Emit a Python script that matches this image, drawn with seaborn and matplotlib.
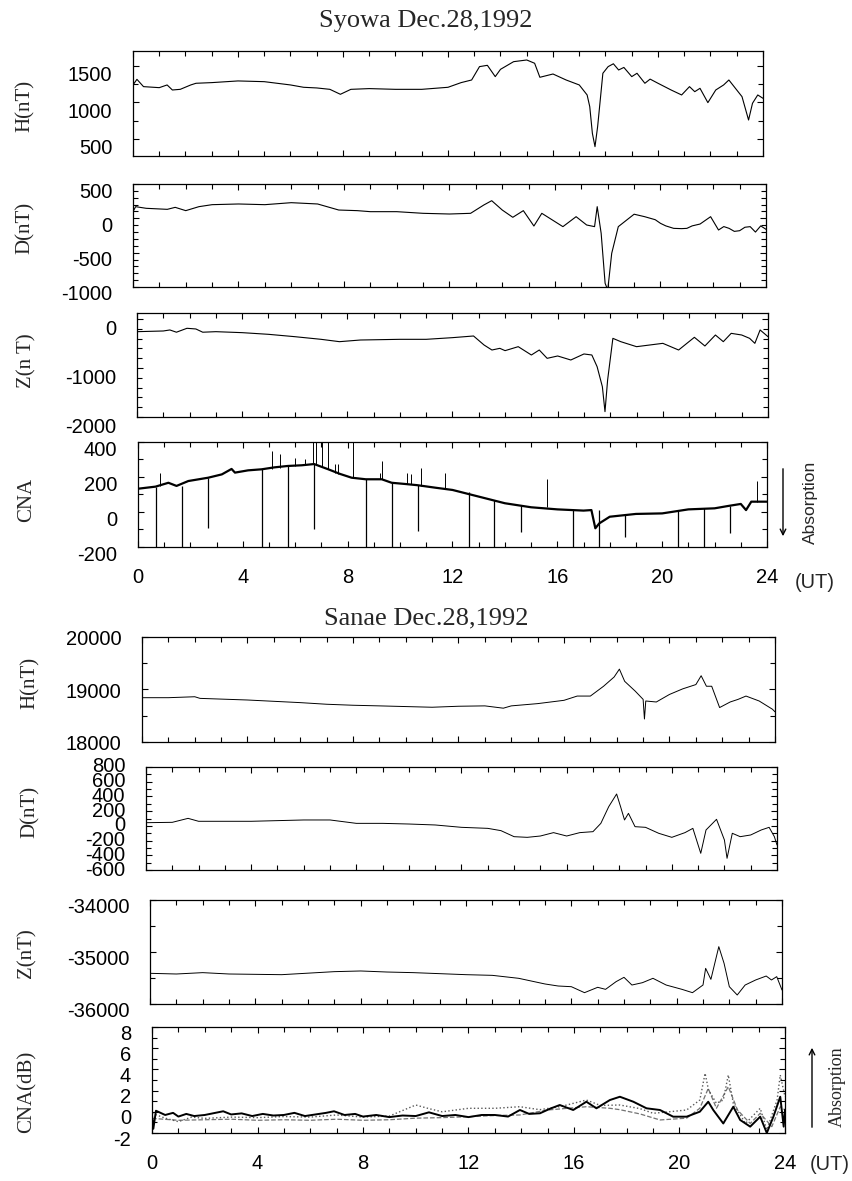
import matplotlib
matplotlib.use('Agg')
import matplotlib.pyplot as plt
import matplotlib.transforms as mtransforms
from matplotlib.ticker import MultipleLocator, FixedLocator
import seaborn as sns
import numpy as np
import pandas as pd

# ── Syowa Dec.28,1992 ──────────────────────────────────────────
syowa_h_t = [0.0, 0.15, 0.4, 1.0, 1.3, 1.5, 1.8, 2.2, 2.4, 3.0, 4.0, 5.0, 6.0, 6.5, 7.0, 7.5, 7.9, 8.3,
             9.0, 10.0, 11.0, 12.0, 12.5, 12.9, 13.2, 13.5, 13.8, 14.0, 14.5, 15.0, 15.3, 15.5, 16.0,
             16.5, 17.0, 17.3, 17.4, 17.5, 17.6, 17.7, 17.8, 17.9, 18.1, 18.3, 18.5, 18.7, 19.0, 19.2,
             19.5, 19.7, 20.0, 20.5, 20.9, 21.2, 21.4, 21.6, 21.9, 22.2, 22.5, 22.7, 23.0, 23.2, 23.45,
             23.6, 23.8, 24.0]
syowa_h_v = [1240, 1317, 1217, 1203, 1240, 1171, 1180, 1240, 1263, 1272, 1295, 1285, 1240, 1208, 1199,
             1180, 1112, 1180, 1190, 1180, 1180, 1208, 1272, 1308, 1491, 1509, 1354, 1454, 1559, 1582,
             1537, 1345, 1390, 1308, 1240, 1103, 943, 578, 395, 669, 1034, 1400, 1491, 1530, 1445, 1480,
             1354, 1400, 1263, 1320, 1263, 1171, 1103, 1217, 1148, 1194, 998, 1171, 1240, 1308, 1171,
             1080, 760, 989, 1103, 1057]

syowa_d_t = [0.0, 0.1, 0.5, 1.3, 1.6, 2.0, 2.5, 3.0, 4.0, 5.0, 6.0, 7.0, 7.8, 8.5, 9.0, 10.0, 11.0, 12.0,
             12.8, 13.3, 13.6, 14.0, 14.4, 14.8, 15.2, 15.5, 15.9, 16.3, 16.8, 17.2, 17.5, 17.6, 17.75,
             17.9, 18.0, 18.15, 18.4, 18.8, 19.0, 19.4, 19.8, 20.0, 20.2, 20.5, 20.8, 21.0, 21.2, 21.5,
             21.9, 22.2, 22.4, 22.6, 22.8, 23.0, 23.2, 23.4, 23.6, 23.8, 24.0]
syowa_d_v = [97, 170, 146, 131, 160, 112, 170, 199, 209, 199, 228, 209, 121, 112, 97, 97, 73, 63, 73, 194,
             257, 121, 15, 112, -112, 73, -24, -121, 24, -97, -121, 170, -218, -946, -1043, -510, -121, 0,
             60, 24, -20, -73, -110, -146, -150, -146, -110, -83, 24, -170, -120, -146, -190, -180, -130,
             -121, -200, -110, -160]

syowa_z_t = [0, 1, 1.25, 1.5, 1.9, 2.24, 2.5, 3, 4, 5, 6, 7, 7.7, 8.5, 10, 11, 12, 12.8, 13.2, 13.5, 13.8,
             14.0, 14.5, 15, 15.3, 15.6, 16, 16.5, 17, 17.3, 17.5, 17.7, 17.8, 17.9, 18.1, 18.4, 19, 19.5,
             20, 20.6, 21.2, 21.6, 22, 22.3, 22.6, 23, 23.3, 23.5, 23.7, 24]
syowa_z_v = [-259, -245, -224, -270, -190, -204, -270, -259, -279, -313, -361, -415, -463, -429, -415, -415,
             -381, -347, -531, -633, -599, -646, -565, -735, -633, -803, -755, -837, -714, -735, -973,
             -1381, -1891, -1245, -395, -463, -565, -531, -497, -633, -374, -551, -327, -463, -293, -327,
             -395, -497, -224, -361]

syowa_cna_t = [0, 0.67, 1.16, 1.47, 1.92, 2.68, 3.2, 3.57, 3.7, 4.2, 4.72, 5.2, 5.71, 6.25, 6.72, 7.26,
               7.7, 8.15, 8.69, 9.3, 9.68, 10.2, 10.67, 11.34, 12, 13, 14, 15, 16, 17, 17.3, 17.45, 17.6,
               18, 19, 20, 21, 22, 22.5, 23, 23.2, 23.4, 24]
syowa_cna_v = [133, 145, 167, 149, 177, 196, 215, 246, 225, 238, 244, 255, 263, 267, 274, 244, 218, 196,
               187, 187, 167, 160, 153, 139, 126, 88, 50, 27, 15, 8, 11, -93, -65, -27, -11, -8, 15, 21,
               34, 46, 11, 59, 59]

# receiver dropouts (down to the bottom) and partial ones
drop_t = [0.67, 1.69, 4.72, 5.71, 8.69, 9.68, 12.62, 13.6, 16.6, 17.6, 20.6, 21.6,
          2.67, 6.72, 10.67, 14.6, 18.6, 22.6]
drop_top = [145, 150, 244, 263, 187, 167, 115, 70, 13, 10, 12, 20,
            196, 274, 153, 42, -10, 36]
drop_bot = [-200, -200, -200, -200, -200, -200, -200, -200, -200, -200, -200, -200,
            -91, -97, -109, -112, -141, -122]

# interference spikes (upward)
spike_t = [0.84, 5.1, 5.42, 5.99, 6.37, 6.69, 6.78, 7.01, 7.26, 7.52, 7.65, 8.22, 9.24, 9.3, 10.25,
           10.4, 10.8, 11.7, 15.6, 23.6]
spike_top = [223, 349, 331, 309, 301, 400, 400, 400, 400, 274, 274, 400, 223, 291, 223, 215, 251, 222,
             187, 178]
spike_bot = [147, 246, 250, 262, 267, 272, 272, 262, 244, 225, 215, 196, 187, 187, 160, 158, 150, 132,
             28, 59]

# ── Sanae Dec.28,1992 ──────────────────────────────────────────
sanae_h_t = [0, 1, 2, 2.2, 4, 6, 7, 8, 9, 11, 12, 13, 13.7, 14, 15, 16, 16.5, 17, 17.5, 17.9, 18.1, 18.3,
             18.7, 19.0, 19.05, 19.1, 19.5, 20, 20.5, 21, 21.2, 21.4, 21.6, 21.9, 22.3, 22.6, 22.9, 23.4,
             23.9, 24]
sanae_h_v = [18844, 18844, 18862, 18831, 18800, 18750, 18719, 18700, 18688, 18662, 18681, 18688, 18644,
             18688, 18731, 18794, 18875, 18875, 19062, 19238, 19388, 19156, 18969, 18812, 18438, 18781,
             18762, 18906, 19012, 19094, 19262, 19062, 19062, 18656, 18762, 18812, 18875, 18781, 18625,
             18575]

sanae_d_t = [0, 1, 1.6, 2, 4, 5, 6, 7, 8, 9, 10, 11, 12, 13, 13.5, 14, 14.5, 15, 15.5, 16, 16.5, 17, 17.3,
             17.6, 17.9, 18.05, 18.2, 18.35, 18.6, 19, 19.5, 20, 20.5, 20.8, 21.1, 21.3, 21.7, 22, 22.1,
             22.3, 22.6, 23, 23.4, 23.7, 23.9, 24]
sanae_d_v = [43, 48, 102, 62, 62, 71, 80, 80, 34, 34, 25, 12, -20, -34, -65, -147, -156, -138, -92, -138,
             -92, -79, 34, 261, 433, 261, 80, 170, -11, -20, -101, -156, -92, -34, -373, -56, 89, -192,
             -441, -101, -147, -124, -56, -20, -147, -260]

sanae_z_t = [0, 1, 2, 3, 5, 7, 8, 9, 10, 12, 13, 14, 15, 15.5, 16, 16.5, 17, 17.3, 17.7, 18, 18.3, 18.7,
             19.1, 19.6, 20.2, 20.6, 21, 21.1, 21.3, 21.6, 21.8, 22.0, 22.3, 22.6, 23.0, 23.4, 23.6, 23.8, 24]
sanae_z_v = [-35410, -35423, -35397, -35423, -35436, -35378, -35365, -35385, -35397, -35436, -35449,
             -35506, -35615, -35654, -35667, -35782, -35679, -35718, -35570, -35487, -35635, -35590,
             -35506, -35635, -35718, -35782, -35635, -35314, -35526, -34897, -35218, -35667, -35827,
             -35635, -35538, -35462, -35538, -35474, -35731]

cna1_t = [0, 0.05, 0.15, 0.5, 0.8, 1.0, 1.3, 1.6, 2.0, 2.4, 2.7, 3.0, 3.4, 3.8, 4.2, 4.6, 5.0, 5.4, 5.8,
          6.2, 6.6, 6.9, 7.3, 7.7, 8.0, 8.5, 9.0, 9.5, 10.0, 10.5, 11.0, 11.5, 12.0, 12.5, 13.0, 13.5,
          13.95, 14.3, 14.71, 15.1, 15.46, 15.97, 16.47, 16.85, 17.36, 17.74, 18.25, 18.75, 19.26, 19.76,
          20.27, 20.77, 21.09, 21.28, 21.66, 22.04, 22.3, 22.68, 23.06, 23.31, 23.56, 23.82, 23.95, 24]
cna1_v = [-0.3, -1.6, 0.1, -0.3, -0.1, -0.45, -0.2, -0.4, -0.3, -0.1, 0.05, -0.25, -0.15, -0.4, -0.2,
          -0.35, -0.3, -0.1, -0.4, -0.25, -0.1, 0.05, -0.3, -0.2, -0.45, -0.3, -0.5, -0.35, -0.4, -0.05,
          -0.4, -0.3, -0.5, -0.3, -0.3, -0.45, 0.17, -0.2, -0.14, 0.3, 0.64, 0.17, 0.95, 0.33, 1.11, 1.42,
          0.95, 0.33, 0.17, -0.46, -0.46, 0.01, 0.95, 0.17, -1.1, 0.48, -0.77, -1.4, -0.46, -2.0, -0.46,
          1.42, -1.4, 0.2]
cna2_t = [0, 0.5, 1.0, 1.5, 2, 3, 4, 5, 6, 7, 8, 9, 10, 10.5, 11, 12, 13, 13.95, 14.7, 15.5, 16.47, 17.0,
          17.74, 18.5, 19.0, 19.6, 20.27, 20.77, 20.97, 21.1, 21.4, 21.66, 21.85, 22.04, 22.5, 23.06,
          23.31, 23.7, 23.82, 24]
cna2_v = [-0.14, -0.6, -0.93, -0.5, -0.62, -0.5, -0.55, -0.45, -0.5, -0.3, -0.5, -0.4, 0.64, 0.3, 0.0,
          0.33, 0.33, 0.48, 0.2, 0.5, 1.11, 0.6, 0.64, 0.3, -0.14, 0.0, 0.17, 1.11, 3.63, 2.06, 0.8, 1.11,
          3.47, 0.8, -1.1, 0.33, -1.7, 1.11, 3.47, 1.42]
cna3_t = [0, 1, 2, 3, 4, 5, 6, 7, 8, 9, 10, 11, 12, 13, 13.95, 15, 16.47, 17.36, 17.74, 18.5, 19.26,
          20.27, 20.77, 21.09, 21.4, 21.85, 22.2, 22.68, 23.06, 23.5, 23.82, 24]
cna3_v = [-0.62, -0.8, -0.75, -0.7, -0.8, -0.75, -0.8, -0.7, -0.8, -0.75, -0.6, -0.55, -0.46, -0.35, -0.3,
          0.17, 0.48, 0.33, 0.2, -0.2, -0.77, -0.6, 0.33, 2.2, 0.33, 2.37, 0.17, -1.1, -0.14, -1.4, 0.48,
          0.17]

hour_labels = ['0', '4', '8', '12', '16', '20', '24']

# ── figure setup ───────────────────────────────────────────────
sns.set_style("ticks")
plt.rcParams['font.family'] = ['Liberation Sans', 'DejaVu Sans']
plt.rcParams['xtick.direction'] = 'in'
plt.rcParams['ytick.direction'] = 'in'
plt.rcParams['xtick.top'] = True
plt.rcParams['ytick.right'] = True
plt.rcParams['axes.linewidth'] = 0.9
plt.rcParams['axes.edgecolor'] = 'black'

W, H = 853, 1181
fig = plt.figure(figsize=(W / 100, H / 100), dpi=100)
SERIF = 'Liberation Serif'


def panel(x0, y0, x1, y1):
    # axes placed by pixel box (left, top, right, bottom)
    return fig.add_axes([x0 / W, 1 - y1 / H, (x1 - x0) / W, (y1 - y0) / H])


def style(ax, ylim, major, minor, show_x=False, label_shift=0):
    ax.set_xlim(0, 24)
    ax.set_ylim(*ylim)
    ax.xaxis.set_major_locator(MultipleLocator(4))
    ax.xaxis.set_minor_locator(MultipleLocator(1))
    ax.yaxis.set_major_locator(FixedLocator(major))
    ax.yaxis.set_minor_locator(MultipleLocator(minor))
    ax.tick_params(which='both', direction='in', top=True, right=True, width=0.8, colors='black')
    ax.tick_params(which='major', length=4.5)
    ax.tick_params(which='minor', length=3.5)
    ax.tick_params(axis='y', labelsize=14.5, pad=15)
    ax.tick_params(axis='x', labelsize=14.5, pad=15)
    ax.set_yticks(major)
    ax.set_yticklabels([str(m) for m in major])
    if show_x:
        ax.set_xticks(range(0, 25, 4))
        ax.set_xticklabels(hour_labels)
    else:
        ax.set_xticklabels([])
    ax.set_xlabel('')
    ax.set_ylabel('')
    ax.grid(False)
    # the scanned tick labels sit a few pixels below their ticks
    off = mtransforms.ScaledTranslation(0, -label_shift / 100, fig.dpi_scale_trans)
    for lab in ax.get_yticklabels():
        lab.set_transform(lab.get_transform() + off)


def trace(ax, t, v, **kw):
    df = pd.DataFrame({'t': t, 'v': v})
    sns.lineplot(data=df, x='t', y='v', ax=ax, estimator=None, sort=False, **kw)


def ylab(x, y, s):
    fig.text(x / W, 1 - y / H, s, rotation=90, ha='center', va='center', family=SERIF, fontsize=15)


# ── Syowa panels ───────────────────────────────────────────────
fig.text(426 / W, 1 - 21 / H, 'Syowa Dec.28,1992', ha='center', va='center', family=SERIF, fontsize=19)

ax = panel(133, 51, 763, 156)
trace(ax, syowa_h_t, syowa_h_v, color='black', linewidth=0.8)
style(ax, (267, 1705), [500, 1000, 1500], 250, label_shift=8)
ylab(25, 106, 'H(nT)')

ax = panel(133, 184, 766, 287)
trace(ax, syowa_d_t, syowa_d_v, color='black', linewidth=0.8)
style(ax, (-1000, 500), [-1000, -500, 0, 500], 100, label_shift=6)
ylab(25, 228, 'D(nT)')

ax = panel(137, 313, 768, 417)
trace(ax, syowa_z_t, syowa_z_v, color='black', linewidth=0.8)
style(ax, (-2000, 122), [-2000, -1000, 0], 200, label_shift=9)
ylab(27, 361, 'Z(n T)')

ax = panel(138, 442, 767, 547)
trace(ax, syowa_cna_t, syowa_cna_v, color='black', linewidth=1.6)
ax.vlines(drop_t, drop_bot, drop_top, color='black', linewidth=0.9)
ax.vlines(spike_t, spike_bot, spike_top, color='black', linewidth=0.7)
style(ax, (-200, 400), [-200, 0, 200, 400], 100, show_x=True, label_shift=7)
ylab(27, 500, 'CNA')
ax.annotate('', xy=(783, H - 539), xytext=(783, H - 466), xycoords='figure pixels',
            textcoords='figure pixels', annotation_clip=False,
            arrowprops=dict(arrowstyle='->', color='black', lw=1.0))
fig.text(810 / W, 1 - 502 / H, 'Absorption', rotation=90, ha='center', va='center', fontsize=12.5)
fig.text(815 / W, 1 - 583 / H, '(UT)', ha='center', va='center', fontsize=14.5)

# ── Sanae panels ───────────────────────────────────────────────
fig.text(426 / W, 1 - 618 / H, 'Sanae Dec.28,1992', ha='center', va='center', family=SERIF, fontsize=19)

ax = panel(142, 637, 775, 742)
trace(ax, sanae_h_t, sanae_h_v, color='black', linewidth=0.7)
style(ax, (18000, 20000), [18000, 19000, 20000], 500, label_shift=1)
ylab(30, 683, 'H(nT)')

ax = panel(146, 767, 777, 870)
trace(ax, sanae_d_t, sanae_d_v, color='black', linewidth=0.7)
style(ax, (-600, 800), list(range(-600, 801, 200)), 100, label_shift=-2)
ylab(30, 812, 'D(nT)')

ax = panel(150, 900, 782, 1004)
trace(ax, sanae_z_t, sanae_z_v, color='black', linewidth=0.7)
style(ax, (-36000, -34000), [-36000, -35000, -34000], 500, label_shift=5)
ylab(27, 953, 'Z(nT)')

ax = panel(152, 1027, 785, 1133)
trace(ax, cna3_t, cna3_v, color='0.45', linewidth=0.9, linestyle='--')
trace(ax, cna2_t, cna2_v, color='0.35', linewidth=1.0, linestyle=':')
trace(ax, cna1_t, cna1_v, color='black', linewidth=1.4)
style(ax, (-2, 8), [-2, 0, 2, 4, 6, 8], 1, show_x=True, label_shift=5)
ylab(27, 1092, 'CNA(dB)')
ax.annotate('', xy=(812, H - 1045), xytext=(812, H - 1130), xycoords='figure pixels',
            textcoords='figure pixels', annotation_clip=False,
            arrowprops=dict(arrowstyle='->', color='black', lw=1.0))
fig.text(837 / W, 1 - 1087 / H, 'Absorption', rotation=90, ha='center', va='center',
         family=SERIF, fontsize=13)
fig.text(830 / W, 1 - 1165 / H, '(UT)', ha='center', va='center', fontsize=14.5)

fig.savefig('out.png', dpi=100)
